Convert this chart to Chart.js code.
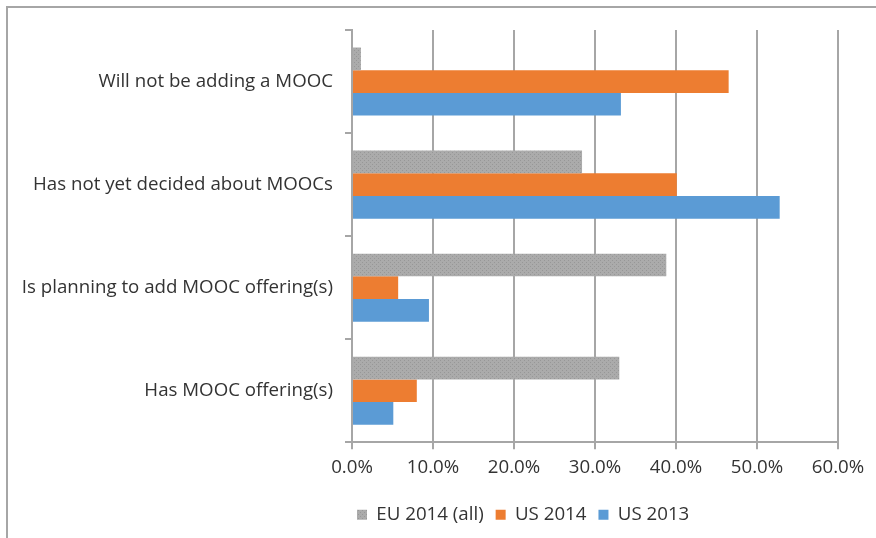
<!DOCTYPE html>
<html>
<head>
<meta charset="utf-8">
<script src="https://cdn.jsdelivr.net/npm/chart.js@4.4.1/dist/chart.umd.min.js"></script>
<style>
  body { margin: 0; background: #fff; }
  #wrap { position: relative; width: 876px; height: 538px; overflow: hidden; }
  #frame { position: absolute; left: 6px; top: 6px; width: 900px; height: 600px;
           border-left: 2px solid #a6a6a6; border-top: 2px solid #a6a6a6; }
  canvas { position: absolute; left: 0; top: 0; }
</style>
</head>
<body>
<div id="wrap">
  <div id="frame"></div>
  <canvas id="chart" width="876" height="538"></canvas>
</div>
<script>
// chart data
const categories = [
  'Will not be adding a MOOC',
  'Has not yet decided about MOOCs',
  'Is planning to add MOOC offering(s)',
  'Has MOOC offering(s)'
];
const eu2014 = [1.1, 28.4, 38.8, 33.0];
const us2014 = [46.5, 40.1, 5.7, 8.0];
const us2013 = [33.2, 52.8, 9.5, 5.1];
const xTicks = [0, 10, 20, 30, 40, 50, 60];

// dotted gray fill like the excel pattern
function makeDots() {
  var c = document.createElement('canvas');
  c.width = 4; c.height = 4;
  var g = c.getContext('2d');
  g.fillStyle = '#ababab';
  g.fillRect(0, 0, 4, 4);
  g.fillStyle = '#979797';
  g.fillRect(0, 0, 1, 1);
  g.fillRect(2, 2, 1, 1);
  return g.createPattern(c, 'repeat');
}

const FONT = 'Open Sans';
const SIZE = 18.7;
const TEXT = '#333333';
const GRID = '#a6a6a6';
const LEGEND_PAD = 12;

// legend sits left of center in the original, move it over
const legendShift = {
  id: 'legendShift',
  afterLayout: function (chart) {
    var lg = chart.legend;
    var w = lg.right - lg.left;
    lg.left = 357 - LEGEND_PAD;
    lg.right = lg.left + w;
  }
};

const ctx = document.getElementById('chart').getContext('2d');

new Chart(ctx, {
  type: 'bar',
  data: {
    labels: categories,
    datasets: [
      { label: 'EU 2014 (all)', data: eu2014, backgroundColor: makeDots() },
      { label: 'US 2014', data: us2014, backgroundColor: '#ed7d31' },
      { label: 'US 2013', data: us2013, backgroundColor: '#5b9bd5' }
    ]
  },
  options: {
    indexAxis: 'y',
    responsive: false,
    animation: false,
    categoryPercentage: 0.66,
    barPercentage: 1.0,
    layout: { padding: { top: 30, right: 38, bottom: 4, left: 0 } },
    scales: {
      x: {
        min: 0,
        max: 60,
        afterBuildTicks: function (scale) {
          scale.ticks = xTicks.map(function (v) { return { value: v }; });
        },
        afterFit: function (scale) { scale.height = 51; },
        ticks: {
          color: TEXT,
          font: { family: FONT, size: SIZE },
          padding: 7,
          maxRotation: 0,
          callback: function (v) { return v.toFixed(1) + '%'; }
        },
        grid: { color: GRID, lineWidth: 2, tickLength: 7 },
        border: { color: GRID, width: 2 }
      },
      y: {
        afterFit: function (scale) { scale.width = 352; },
        ticks: {
          color: TEXT,
          font: { family: FONT, size: SIZE },
          padding: 12
        },
        grid: { drawOnChartArea: false, color: GRID, lineWidth: 2, tickLength: 7 },
        border: { color: GRID, width: 2 }
      }
    },
    plugins: {
      legend: {
        position: 'bottom',
        align: 'start',
        labels: {
          color: TEXT,
          font: { family: FONT, size: SIZE },
          boxWidth: 10,
          boxHeight: 10,
          padding: LEGEND_PAD
        }
      },
      tooltip: { enabled: false }
    }
  },
  plugins: [legendShift]
});
</script>
</body>
</html>
